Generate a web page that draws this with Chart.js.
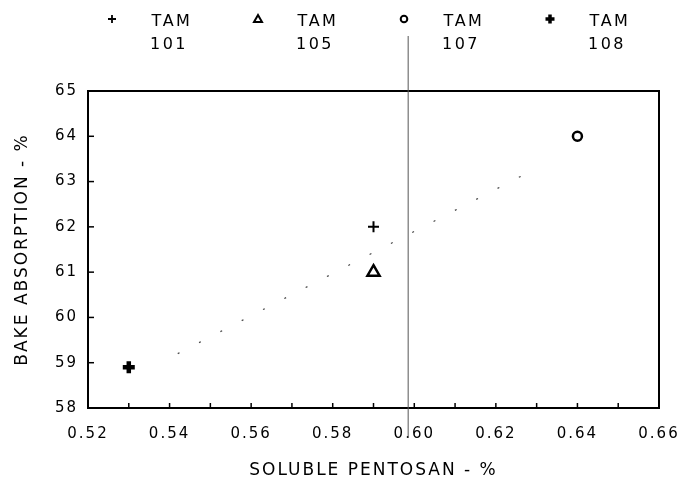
<!DOCTYPE html>
<html>
<head>
<meta charset="utf-8">
<script src="https://cdn.jsdelivr.net/npm/chart.js@4/dist/chart.umd.min.js"></script>
<style>
  html, body { margin: 0; padding: 0; background: #fff; }
  #wrap { width: 682px; height: 485px; }
</style>
</head>
<body>
<div id="wrap"><canvas id="pentosan"></canvas></div>
<script>
// values
const varieties = ['TAM 101', 'TAM 105', 'TAM 107', 'TAM 108'];
const solublePentosan = [0.59, 0.59, 0.64, 0.53];
const bakeAbsorption = [62.0, 61.0, 64.0, 58.9];

// faint dotted fit line, visible end points
const fitPentosan = [0.542, 0.629];
const fitAbsorption = [59.2, 63.25];

const xTickValues = [0.52, 0.53, 0.54, 0.55, 0.56, 0.57, 0.58, 0.59, 0.60, 0.61, 0.62, 0.63, 0.64, 0.65, 0.66];
const xTickLabels = ['0.52', '', '0.54', '', '0.56', '', '0.58', '', '0.60', '', '0.62', '', '0.64', '', '0.66'];
const yTickValues = [58, 59, 60, 61, 62, 63, 64, 65];

// page fold seen in the scan
const foldAt = 0.5985;

Chart.defaults.font.family = "'DejaVu Sans', sans-serif";
Chart.defaults.font.size = 15;
Chart.defaults.color = '#000';

const markerLook = [
  { pointStyle: 'cross', pointRadius: 5.5, pointBorderWidth: 2 },
  { pointStyle: 'triangle', pointRadius: 7, pointBorderWidth: 2.5 },
  { pointStyle: 'circle', pointRadius: 4.5, pointBorderWidth: 2.5 },
  { pointStyle: 'cross', pointRadius: 6, pointBorderWidth: 4.5 }
];

const pointSets = varieties.map((name, i) => Object.assign({
  label: name,
  data: [{ x: solublePentosan[i], y: bakeAbsorption[i] }],
  borderColor: '#000',
  backgroundColor: '#fff',
  showLine: false
}, markerLook[i]));

const fitSet = {
  label: 'fit',
  data: fitPentosan.map((x, i) => ({ x: x, y: fitAbsorption[i] })),
  showLine: true,
  borderColor: '#444',
  borderWidth: 1.2,
  borderDash: [2, 22],
  pointRadius: 0,
  fill: false
};

function drawLegendMark(ctx, kind, x, y, bold) {
  ctx.beginPath();
  if (kind === 'cross') {
    const r = bold ? 4.5 : 4;
    ctx.lineWidth = bold ? 3.5 : 1.8;
    ctx.moveTo(x - r, y); ctx.lineTo(x + r, y);
    ctx.moveTo(x, y - r); ctx.lineTo(x, y + r);
    ctx.stroke();
  } else if (kind === 'triangle') {
    ctx.lineWidth = 2;
    ctx.moveTo(x, y - 4); ctx.lineTo(x + 4, y + 3); ctx.lineTo(x - 4, y + 3);
    ctx.closePath();
    ctx.stroke();
  } else {
    ctx.lineWidth = 2;
    ctx.arc(x, y, 3.3, 0, Math.PI * 2);
    ctx.stroke();
  }
}

// the plotter lettering is wide, spread it a little
const spacing = {
  id: 'spacing',
  beforeUpdate(chart) { chart.ctx.letterSpacing = '2px'; },
  beforeDraw(chart) { chart.ctx.letterSpacing = '2px'; }
};

const framePlugin = {
  id: 'frame',
  afterDraw(chart) {
    const ctx = chart.ctx;
    const a = chart.chartArea;
    const xs = chart.scales.x;
    const ys = chart.scales.y;
    ctx.save();
    ctx.strokeStyle = '#000';
    ctx.lineWidth = 1.5;
    xTickValues.forEach(v => {
      const px = xs.getPixelForValue(v);
      ctx.beginPath(); ctx.moveTo(px, a.bottom); ctx.lineTo(px, a.bottom - 5); ctx.stroke();
    });
    yTickValues.forEach(v => {
      const py = ys.getPixelForValue(v);
      ctx.beginPath(); ctx.moveTo(a.left, py); ctx.lineTo(a.left + 6, py); ctx.stroke();
    });
    ctx.lineWidth = 2;
    ctx.strokeRect(a.left, a.top, a.right - a.left, a.bottom - a.top);

    // fold line
    const fx = xs.getPixelForValue(foldAt);
    ctx.strokeStyle = '#555';
    ctx.lineWidth = 1;
    ctx.beginPath(); ctx.moveTo(fx, 36); ctx.lineTo(fx, a.bottom + 30); ctx.stroke();

    // legend across the top
    ctx.strokeStyle = '#000';
    ctx.fillStyle = '#000';
    ctx.font = "16px 'DejaVu Sans', sans-serif";
    ctx.letterSpacing = '2.5px';
    ctx.textAlign = 'center';
    ctx.textBaseline = 'middle';
    varieties.forEach((name, i) => {
      const x0 = 112 + i * 146;
      const parts = name.split(' ');
      drawLegendMark(ctx, markerLook[i].pointStyle, x0, 19, i === 3);
      ctx.fillText(parts[0], x0 + 60, 22);
      ctx.fillText(parts[1], x0 + 57, 45);
    });
    ctx.restore();
  }
};

new Chart(document.getElementById('pentosan'), {
  type: 'scatter',
  data: { datasets: pointSets.concat([fitSet]) },
  options: {
    responsive: true,
    maintainAspectRatio: false,
    animation: false,
    layout: { padding: { top: 91, right: 23, left: 0, bottom: 0 } },
    plugins: { legend: { display: false }, tooltip: { enabled: false } },
    scales: {
      x: {
        type: 'linear',
        min: 0.52,
        max: 0.66,
        afterBuildTicks: s => { s.ticks = xTickValues.map(v => ({ value: v })); },
        afterFit: s => { s.height = 77; s.paddingLeft = 0; s.paddingRight = 0; },
        grid: { display: false, drawTicks: false },
        border: { display: false },
        ticks: {
          padding: 17,
          maxRotation: 0,
          autoSkip: false,
          callback: (v, i) => xTickLabels[i]
        },
        title: {
          display: true,
          text: 'SOLUBLE PENTOSAN - %',
          font: { size: 17 },
          padding: { top: 0, bottom: 4 }
        }
      },
      y: {
        min: 58,
        max: 65,
        afterBuildTicks: s => { s.ticks = yTickValues.map(v => ({ value: v })); },
        afterFit: s => { s.width = 88; s.paddingTop = 0; s.paddingBottom = 0; },
        grid: { display: false, drawTicks: false },
        border: { display: false },
        ticks: { padding: 10 },
        title: {
          display: true,
          text: 'BAKE ABSORPTION - %',
          font: { size: 17 },
          padding: { top: 12, bottom: 0 }
        }
      }
    }
  },
  plugins: [spacing, framePlugin]
});
</script>
</body>
</html>
